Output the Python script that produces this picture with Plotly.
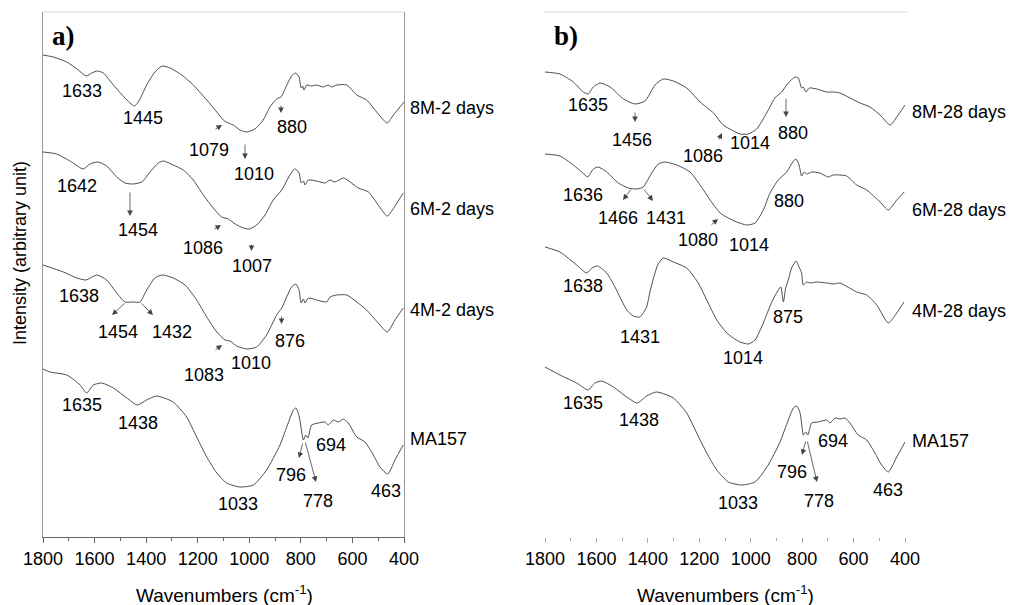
import plotly.graph_objects as go

# ---------------- data (wavenumber cm-1, intensity in arbitrary stacked units) --------------
wn_a1 = [1800,1760,1708,1663,1633,1611,1589,1566,1527,1482,1446,1430,1398,1366,1337,1307,1262,1217,1165,1126,1101,1081,1062,1036,1010,978,946,920,894,877,858,836,820,807,799,793,788,777,758,739,713,694,680,661,622,583,545,506,465,441,400]
int_a1 = [482,480,475,467,461,464,466,464,452,439,431,435,452,465,471,469,462,452,437,425,417,414,412,407,405,408,417,430,438,440,450,461,464,460,449,451,447,452,451,452,450,452,450,452,452,442,437,425,414,422,435]

wn_a2 = [1800,1747,1689,1644,1618,1586,1553,1514,1482,1450,1417,1385,1353,1333,1295,1256,1217,1178,1140,1107,1081,1055,1023,1000,971,939,907,874,849,829,820,807,799,790,784,771,739,706,687,668,635,609,577,538,500,465,435,403]
int_a2 = [385,383,375,368,373,375,371,360,354,353,355,365,374,376,372,367,357,342,329,320,318,313,309,308,312,322,337,347,359,367,368,364,354,356,352,357,356,354,357,355,359,355,349,345,332,321,331,344]

wn_a3 = [1800,1721,1669,1633,1592,1553,1514,1482,1450,1424,1398,1366,1337,1295,1249,1204,1165,1126,1094,1075,1049,1010,971,933,894,874,855,836,820,807,799,790,784,771,739,700,687,661,622,583,545,500,465,435,403]
int_a3 = [272,265,259,257,262,257,244,235,235,235,247,259,262,259,252,237,220,205,197,196,191,188,190,202,222,229,240,250,253,247,234,238,234,239,237,235,240,242,242,235,227,214,205,217,229]

wn_a4 = [1800,1773,1708,1656,1631,1605,1572,1527,1475,1434,1398,1359,1295,1243,1204,1165,1126,1088,1036,984,933,881,849,829,819,806,790,781,773,758,732,706,694,674,655,635,616,583,551,519,493,463,435,403]
int_a4 = [168,165,162,152,144,152,154,149,139,132,137,141,135,120,100,80,64,54,50,52,67,92,114,127,129,120,97,102,99,112,114,115,112,117,115,118,114,100,95,82,70,63,77,92]

wn_b1 = [1800,1742,1690,1651,1632,1612,1586,1547,1495,1450,1411,1372,1340,1301,1249,1197,1145,1107,1074,1042,1009,977,938,906,880,854,828,815,802,796,785,772,743,704,679,653,614,575,536,497,458,432,400]
int_b1 = [465,463,455,445,443,450,454,450,438,433,436,452,458,456,449,435,424,412,407,403,403,408,424,439,445,454,460,459,449,450,445,449,448,445,445,444,439,434,430,422,412,420,432]

wn_b2 = [1800,1742,1690,1653,1634,1612,1593,1560,1515,1476,1443,1418,1385,1359,1333,1288,1236,1197,1158,1119,1087,1054,1016,983,951,925,893,860,834,824,812,802,792,782,763,731,698,679,627,588,549,497,465,432,403]
int_b2 = [383,381,372,364,360,368,370,365,354,349,348,350,364,373,375,372,365,352,337,324,319,315,312,314,327,344,357,365,376,378,372,361,365,363,365,364,360,362,361,352,347,335,327,337,345]

wn_b3 = [1800,1742,1677,1638,1618,1595,1560,1528,1482,1457,1431,1405,1392,1379,1360,1340,1301,1249,1204,1171,1132,1093,1068,1042,1009,983,951,918,893,883,873,864,854,841,824,812,802,796,783,769,743,704,679,653,588,549,510,465,432,404]
int_b3 = [290,285,272,264,269,271,264,250,227,221,220,230,245,258,273,279,275,269,254,237,217,204,199,195,193,197,214,235,247,250,235,249,257,269,276,270,264,252,255,254,255,254,253,254,245,242,232,214,224,235]

wn_b4 = [1800,1742,1677,1632,1606,1580,1534,1482,1441,1405,1366,1301,1249,1210,1171,1132,1087,1035,983,932,886,854,834,821,808,795,786,778,763,737,704,692,672,653,633,614,582,549,517,491,465,432,400]
int_b4 = [170,162,154,147,154,156,150,140,134,141,145,139,124,104,84,67,55,52,55,72,95,117,129,131,124,102,105,102,114,115,117,114,119,118,119,114,102,97,84,72,65,80,95]

series_a = [("8M-2 days", wn_a1, int_a1), ("6M-2 days", wn_a2, int_a2),
            ("4M-2 days", wn_a3, int_a3), ("MA157", wn_a4, int_a4)]
series_b = [("8M-28 days", wn_b1, int_b1), ("6M-28 days", wn_b2, int_b2),
            ("4M-28 days", wn_b3, int_b3), ("MA157", wn_b4, int_b4)]

tick_vals = [1800, 1600, 1400, 1200, 1000, 800, 600, 400]
minor_vals = [1700, 1500, 1300, 1100, 900, 700, 500]

# ---------------- label placement (layout, in figure pixels) ----------------
W, H = 1014, 605
peak_labels = [
    ("1633", 82, 91.5), ("1445", 142.5, 118.5), ("1079", 208.5, 150), ("1010", 254, 174.5), ("880", 292, 127.5),
    ("1642", 76.5, 185.5), ("1454", 137.5, 229.5), ("1086", 203, 247.5), ("1007", 252, 265.5),
    ("1638", 79, 295.5), ("1454", 117.5, 332.5), ("1432", 172, 332.5), ("1083", 204, 374.5), ("1010", 251, 362.5), ("876", 290, 340.5),
    ("1635", 81.7, 405), ("1438", 138, 422.5), ("1033", 237.5, 504), ("796", 291, 474.5), ("778", 317.5, 500.5), ("694", 331, 445), ("463", 386, 490.5),
    ("1635", 588, 104.5), ("1456", 632, 139.5), ("1086", 703, 155.5), ("1014", 750, 142.5), ("880", 793, 132.5),
    ("1636", 582.5, 194.5), ("1466", 617.5, 217.5), ("1431", 666, 217.5), ("1080", 697.5, 239.5), ("1014", 749, 244.5), ("880", 789, 200.5),
    ("1638", 582.5, 285.5), ("1431", 640, 336.5), ("1014", 742.5, 357.5), ("875", 787.5, 316.5),
    ("1635", 582.5, 402.5), ("1438", 639, 419.5), ("1033", 738, 502.5), ("796", 792, 472.5), ("778", 819, 500.5), ("694", 832.5, 440.5), ("463", 887.5, 489.5),
]
name_pos_a = [(408, 108), (408, 209), (408, 310), (408, 439)]
name_pos_b = [(910, 112), (910, 210), (910, 311), (910, 441)]
arrows = [  # tail x, tail y, tip x, tip y
    (214, 130, 222, 125), (245, 143, 245, 159), (281, 104, 281, 113),
    (130, 191, 130, 216), (213, 230, 221, 225), (251.5, 243, 251.5, 251),
    (126, 302, 112, 315), (140, 302, 153, 315), (214, 351, 222, 345), (281.5, 315, 281.5, 324),
    (303, 442, 299, 458), (305, 441, 316, 482),
    (635, 111, 635, 122), (718, 141, 722, 133), (786, 97, 786, 117),
    (632, 188, 623, 200), (643, 188, 653, 201), (710, 226, 718, 219),
    (806, 440, 802, 455), (807, 440, 817, 482),
]

FONT = "Liberation Sans, Arial, sans-serif"
fig = go.Figure()

for _, wn, val in series_a:
    fig.add_trace(go.Scatter(x=wn, y=val, mode="lines", xaxis="x", yaxis="y",
                             line=dict(color="#3a3a3a", width=0.9, shape="spline", smoothing=0.6),
                             showlegend=False, hoverinfo="skip"))
for _, wn, val in series_b:
    fig.add_trace(go.Scatter(x=wn, y=val, mode="lines", xaxis="x2", yaxis="y2",
                             line=dict(color="#3a3a3a", width=0.9, shape="spline", smoothing=0.6),
                             showlegend=False, hoverinfo="skip"))

ydom = [(H - 537) / H, (H - 12) / H]
common_x = dict(range=[1800, 400], tickmode="array", tickvals=tick_vals,
                ticktext=[str(v) for v in tick_vals], ticks="outside", ticklen=5, tickwidth=1,
                tickfont=dict(family=FONT, size=18, color="black"), showgrid=False, zeroline=False,
                automargin=False,
                minor=dict(tickmode="array", tickvals=minor_vals, ticks="outside", ticklen=3, tickwidth=1))
fig.update_layout(
    width=W, height=H, autosize=False, margin=dict(l=0, r=0, t=0, b=0, autoexpand=False),
    paper_bgcolor="white", plot_bgcolor="white",
    xaxis=dict(domain=[43 / W, 404 / W], anchor="y", showline=True, linecolor="#666",
               tickcolor="#666", **common_x),
    yaxis=dict(domain=ydom, anchor="x", range=[0, 525], showline=True, mirror=True,
               linecolor="#999", showticklabels=False, ticks="", showgrid=False, zeroline=False),
    xaxis2=dict(domain=[545 / W, 905 / W], anchor="y2", showline=False, tickcolor="#aaa", **common_x),
    yaxis2=dict(domain=ydom, anchor="x2", range=[0, 525], showline=False,
                showticklabels=False, ticks="", showgrid=False, zeroline=False),
)
fig.layout.xaxis.minor.tickcolor = "#666"
fig.layout.xaxis2.minor.tickcolor = "#aaa"

# top frame lines
fig.add_shape(type="line", xref="x domain", yref="y domain", x0=0, x1=1, y0=1, y1=1,
              line=dict(color="#dcdcdc", width=1))
fig.add_shape(type="line", xref="x2 domain", yref="y2 domain", x0=-0.005, x1=1.005, y0=1, y1=1,
              line=dict(color="#dcdcdc", width=1))

ann = []
for txt, px, py in peak_labels:
    ann.append(dict(text=txt, x=px / W, y=1 - py / H, xref="paper", yref="paper",
                    xanchor="center", yanchor="middle", showarrow=False,
                    font=dict(family=FONT, size=18, color="black")))
for (name, _, _), (px, py) in zip(series_a, name_pos_a):
    ann.append(dict(text=name, x=px / W, y=1 - py / H, xref="paper", yref="paper",
                    xanchor="left", yanchor="middle", showarrow=False,
                    font=dict(family=FONT, size=18, color="black")))
for (name, _, _), (px, py) in zip(series_b, name_pos_b):
    ann.append(dict(text=name, x=px / W, y=1 - py / H, xref="paper", yref="paper",
                    xanchor="left", yanchor="middle", showarrow=False,
                    font=dict(family=FONT, size=18, color="black")))
for tx, ty, hx, hy in arrows:
    ann.append(dict(text="", x=hx / W, y=1 - hy / H, xref="paper", yref="paper",
                    ax=tx - hx, ay=ty - hy, axref="pixel", ayref="pixel",
                    showarrow=True, arrowhead=2, arrowsize=1.4, arrowwidth=0.8,
                    arrowcolor="#444", standoff=0, startstandoff=0))

# panel letters
ann.append(dict(text="<b>a)</b>", x=63 / W, y=1 - 36 / H, xref="paper", yref="paper",
                xanchor="center", yanchor="middle", showarrow=False,
                font=dict(family="Liberation Serif, Times New Roman, serif", size=27, color="black")))
ann.append(dict(text="<b>b)</b>", x=566 / W, y=1 - 36 / H, xref="paper", yref="paper",
                xanchor="center", yanchor="middle", showarrow=False,
                font=dict(family="Liberation Serif, Times New Roman, serif", size=27, color="black")))
# axis titles
for xc in (224, 725):
    ann.append(dict(text="Wavenumbers (cm<sup>-1</sup>)", x=xc / W, y=1 - 594 / H,
                    xref="paper", yref="paper", xanchor="center", yanchor="middle",
                    showarrow=False, font=dict(family=FONT, size=19, color="black")))
ann.append(dict(text="Intensity (arbitrary unit)", x=20 / W, y=1 - 253 / H, xref="paper",
                yref="paper", xanchor="center", yanchor="middle", textangle=-90,
                showarrow=False, font=dict(family=FONT, size=18, color="black")))

fig.update_layout(annotations=ann)
fig.write_html("out.html", config={"responsive": False, "displayModeBar": False},
               post_script="document.body.style.margin='0px';document.body.style.overflow='hidden';")
